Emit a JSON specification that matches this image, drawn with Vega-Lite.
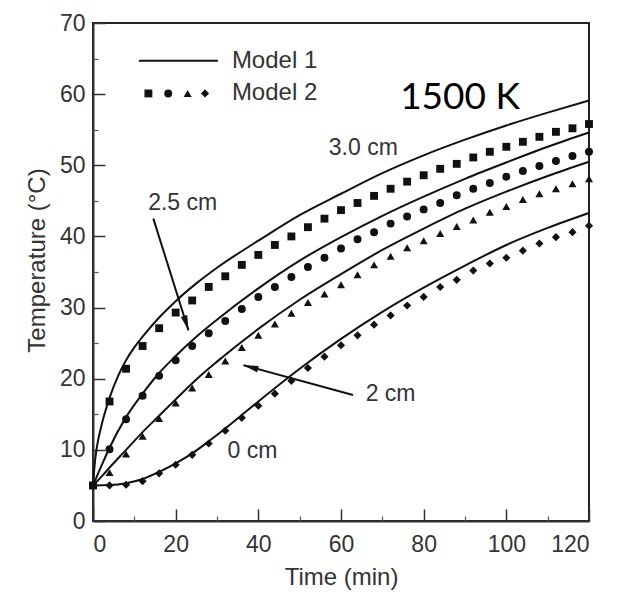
{
  "$schema": "https://vega.github.io/schema/vega-lite/v6.json",
  "width": 496,
  "height": 498,
  "autosize": {"type": "none"},
  "padding": {"left": 93, "top": 23, "right": 31, "bottom": 73},
  "config": {
    "view": {"stroke": "#222", "strokeWidth": 2},
    "font": "Liberation Sans"
  },
  "datasets": {
    "model1": [
      {"depth": "3.0 cm", "t": 0, "T": 5}, {"depth": "3.0 cm", "t": 0.5, "T": 8.5}, {"depth": "3.0 cm", "t": 1, "T": 10.6}, {"depth": "3.0 cm", "t": 2, "T": 13.3}, {"depth": "3.0 cm", "t": 4, "T": 17.3}, {"depth": "3.0 cm", "t": 6, "T": 20.3}, {"depth": "3.0 cm", "t": 8, "T": 22.6}, {"depth": "3.0 cm", "t": 10, "T": 24.4}, {"depth": "3.0 cm", "t": 12, "T": 25.9}, {"depth": "3.0 cm", "t": 16, "T": 28.6}, {"depth": "3.0 cm", "t": 20, "T": 30.9}, {"depth": "3.0 cm", "t": 25, "T": 33.4}, {"depth": "3.0 cm", "t": 30, "T": 35.6}, {"depth": "3.0 cm", "t": 40, "T": 39.4}, {"depth": "3.0 cm", "t": 50, "T": 43.0}, {"depth": "3.0 cm", "t": 60, "T": 46.0}, {"depth": "3.0 cm", "t": 70, "T": 48.9}, {"depth": "3.0 cm", "t": 80, "T": 51.4}, {"depth": "3.0 cm", "t": 90, "T": 53.6}, {"depth": "3.0 cm", "t": 100, "T": 55.6}, {"depth": "3.0 cm", "t": 110, "T": 57.4}, {"depth": "3.0 cm", "t": 120, "T": 59.1},
      {"depth": "2.5 cm", "t": 0, "T": 5}, {"depth": "2.5 cm", "t": 2, "T": 7.7}, {"depth": "2.5 cm", "t": 4, "T": 10.3}, {"depth": "2.5 cm", "t": 8, "T": 14.6}, {"depth": "2.5 cm", "t": 12, "T": 17.9}, {"depth": "2.5 cm", "t": 16, "T": 20.8}, {"depth": "2.5 cm", "t": 20, "T": 23.2}, {"depth": "2.5 cm", "t": 25, "T": 25.9}, {"depth": "2.5 cm", "t": 30, "T": 28.3}, {"depth": "2.5 cm", "t": 40, "T": 32.7}, {"depth": "2.5 cm", "t": 50, "T": 36.6}, {"depth": "2.5 cm", "t": 60, "T": 39.9}, {"depth": "2.5 cm", "t": 70, "T": 42.9}, {"depth": "2.5 cm", "t": 80, "T": 45.6}, {"depth": "2.5 cm", "t": 90, "T": 48.1}, {"depth": "2.5 cm", "t": 100, "T": 50.4}, {"depth": "2.5 cm", "t": 110, "T": 52.6}, {"depth": "2.5 cm", "t": 120, "T": 54.6},
      {"depth": "2 cm", "t": 0, "T": 5}, {"depth": "2 cm", "t": 2, "T": 6.2}, {"depth": "2 cm", "t": 4, "T": 7.5}, {"depth": "2 cm", "t": 8, "T": 10.0}, {"depth": "2 cm", "t": 12, "T": 12.5}, {"depth": "2 cm", "t": 16, "T": 14.8}, {"depth": "2 cm", "t": 20, "T": 17.1}, {"depth": "2 cm", "t": 25, "T": 19.9}, {"depth": "2 cm", "t": 30, "T": 22.4}, {"depth": "2 cm", "t": 40, "T": 27.0}, {"depth": "2 cm", "t": 50, "T": 31.1}, {"depth": "2 cm", "t": 60, "T": 34.7}, {"depth": "2 cm", "t": 70, "T": 38.1}, {"depth": "2 cm", "t": 80, "T": 41.1}, {"depth": "2 cm", "t": 90, "T": 43.9}, {"depth": "2 cm", "t": 100, "T": 46.3}, {"depth": "2 cm", "t": 110, "T": 48.5}, {"depth": "2 cm", "t": 120, "T": 50.5},
      {"depth": "0 cm", "t": 0, "T": 5}, {"depth": "0 cm", "t": 4, "T": 5.05}, {"depth": "0 cm", "t": 8, "T": 5.3}, {"depth": "0 cm", "t": 12, "T": 5.9}, {"depth": "0 cm", "t": 16, "T": 6.9}, {"depth": "0 cm", "t": 20, "T": 8.1}, {"depth": "0 cm", "t": 24, "T": 9.5}, {"depth": "0 cm", "t": 28, "T": 11.2}, {"depth": "0 cm", "t": 32, "T": 13.0}, {"depth": "0 cm", "t": 36, "T": 14.9}, {"depth": "0 cm", "t": 40, "T": 16.8}, {"depth": "0 cm", "t": 50, "T": 21.4}, {"depth": "0 cm", "t": 60, "T": 25.6}, {"depth": "0 cm", "t": 70, "T": 29.4}, {"depth": "0 cm", "t": 80, "T": 32.8}, {"depth": "0 cm", "t": 90, "T": 35.9}, {"depth": "0 cm", "t": 100, "T": 38.8}, {"depth": "0 cm", "t": 110, "T": 41.2}, {"depth": "0 cm", "t": 120, "T": 43.3}
    ],
    "model2": [
      {"depth": "3.0 cm", "t": 0, "T": 5}, {"depth": "3.0 cm", "t": 4, "T": 16.8}, {"depth": "3.0 cm", "t": 8, "T": 21.4}, {"depth": "3.0 cm", "t": 12, "T": 24.6}, {"depth": "3.0 cm", "t": 16, "T": 27.1}, {"depth": "3.0 cm", "t": 20, "T": 29.3}, {"depth": "3.0 cm", "t": 24, "T": 31.0}, {"depth": "3.0 cm", "t": 28, "T": 32.9}, {"depth": "3.0 cm", "t": 32, "T": 34.4}, {"depth": "3.0 cm", "t": 36, "T": 36.0}, {"depth": "3.0 cm", "t": 40, "T": 37.4}, {"depth": "3.0 cm", "t": 44, "T": 38.8}, {"depth": "3.0 cm", "t": 48, "T": 40.0}, {"depth": "3.0 cm", "t": 52, "T": 41.3}, {"depth": "3.0 cm", "t": 56, "T": 42.5}, {"depth": "3.0 cm", "t": 60, "T": 43.7}, {"depth": "3.0 cm", "t": 64, "T": 44.7}, {"depth": "3.0 cm", "t": 68, "T": 45.7}, {"depth": "3.0 cm", "t": 72, "T": 46.7}, {"depth": "3.0 cm", "t": 76, "T": 47.7}, {"depth": "3.0 cm", "t": 80, "T": 48.6}, {"depth": "3.0 cm", "t": 84, "T": 49.5}, {"depth": "3.0 cm", "t": 88, "T": 50.2}, {"depth": "3.0 cm", "t": 92, "T": 51.1}, {"depth": "3.0 cm", "t": 96, "T": 51.9}, {"depth": "3.0 cm", "t": 100, "T": 52.6}, {"depth": "3.0 cm", "t": 104, "T": 53.3}, {"depth": "3.0 cm", "t": 108, "T": 54.0}, {"depth": "3.0 cm", "t": 112, "T": 54.7}, {"depth": "3.0 cm", "t": 116, "T": 55.2}, {"depth": "3.0 cm", "t": 120, "T": 55.8},
      {"depth": "2.5 cm", "t": 0, "T": 5}, {"depth": "2.5 cm", "t": 4, "T": 10.1}, {"depth": "2.5 cm", "t": 8, "T": 14.3}, {"depth": "2.5 cm", "t": 12, "T": 17.6}, {"depth": "2.5 cm", "t": 16, "T": 20.4}, {"depth": "2.5 cm", "t": 20, "T": 22.6}, {"depth": "2.5 cm", "t": 24, "T": 24.6}, {"depth": "2.5 cm", "t": 28, "T": 26.4}, {"depth": "2.5 cm", "t": 32, "T": 28.1}, {"depth": "2.5 cm", "t": 36, "T": 29.8}, {"depth": "2.5 cm", "t": 40, "T": 31.5}, {"depth": "2.5 cm", "t": 44, "T": 32.9}, {"depth": "2.5 cm", "t": 48, "T": 34.3}, {"depth": "2.5 cm", "t": 52, "T": 35.7}, {"depth": "2.5 cm", "t": 56, "T": 37.0}, {"depth": "2.5 cm", "t": 60, "T": 38.3}, {"depth": "2.5 cm", "t": 64, "T": 39.6}, {"depth": "2.5 cm", "t": 68, "T": 40.6}, {"depth": "2.5 cm", "t": 72, "T": 41.8}, {"depth": "2.5 cm", "t": 76, "T": 42.8}, {"depth": "2.5 cm", "t": 80, "T": 43.8}, {"depth": "2.5 cm", "t": 84, "T": 44.7}, {"depth": "2.5 cm", "t": 88, "T": 45.8}, {"depth": "2.5 cm", "t": 92, "T": 46.7}, {"depth": "2.5 cm", "t": 96, "T": 47.5}, {"depth": "2.5 cm", "t": 100, "T": 48.4}, {"depth": "2.5 cm", "t": 104, "T": 49.2}, {"depth": "2.5 cm", "t": 108, "T": 49.9}, {"depth": "2.5 cm", "t": 112, "T": 50.6}, {"depth": "2.5 cm", "t": 116, "T": 51.3}, {"depth": "2.5 cm", "t": 120, "T": 51.9},
      {"depth": "2 cm", "t": 0, "T": 5}, {"depth": "2 cm", "t": 4, "T": 6.8}, {"depth": "2 cm", "t": 8, "T": 9.4}, {"depth": "2 cm", "t": 12, "T": 11.9}, {"depth": "2 cm", "t": 16, "T": 14.4}, {"depth": "2 cm", "t": 20, "T": 16.6}, {"depth": "2 cm", "t": 24, "T": 18.7}, {"depth": "2 cm", "t": 28, "T": 20.6}, {"depth": "2 cm", "t": 32, "T": 22.5}, {"depth": "2 cm", "t": 36, "T": 24.4}, {"depth": "2 cm", "t": 40, "T": 26.1}, {"depth": "2 cm", "t": 44, "T": 27.7}, {"depth": "2 cm", "t": 48, "T": 29.2}, {"depth": "2 cm", "t": 52, "T": 30.7}, {"depth": "2 cm", "t": 56, "T": 31.9}, {"depth": "2 cm", "t": 60, "T": 33.2}, {"depth": "2 cm", "t": 64, "T": 34.6}, {"depth": "2 cm", "t": 68, "T": 36.0}, {"depth": "2 cm", "t": 72, "T": 37.2}, {"depth": "2 cm", "t": 76, "T": 38.4}, {"depth": "2 cm", "t": 80, "T": 39.4}, {"depth": "2 cm", "t": 84, "T": 40.4}, {"depth": "2 cm", "t": 88, "T": 41.4}, {"depth": "2 cm", "t": 92, "T": 42.3}, {"depth": "2 cm", "t": 96, "T": 43.4}, {"depth": "2 cm", "t": 100, "T": 44.2}, {"depth": "2 cm", "t": 104, "T": 45.2}, {"depth": "2 cm", "t": 108, "T": 46.0}, {"depth": "2 cm", "t": 112, "T": 46.7}, {"depth": "2 cm", "t": 116, "T": 47.4}, {"depth": "2 cm", "t": 120, "T": 48.1},
      {"depth": "0 cm", "t": 0, "T": 5}, {"depth": "0 cm", "t": 4, "T": 5.0}, {"depth": "0 cm", "t": 8, "T": 5.1}, {"depth": "0 cm", "t": 12, "T": 5.6}, {"depth": "0 cm", "t": 16, "T": 6.7}, {"depth": "0 cm", "t": 20, "T": 7.9}, {"depth": "0 cm", "t": 24, "T": 9.3}, {"depth": "0 cm", "t": 28, "T": 10.9}, {"depth": "0 cm", "t": 32, "T": 12.7}, {"depth": "0 cm", "t": 36, "T": 14.5}, {"depth": "0 cm", "t": 40, "T": 16.2}, {"depth": "0 cm", "t": 44, "T": 17.9}, {"depth": "0 cm", "t": 48, "T": 19.7}, {"depth": "0 cm", "t": 52, "T": 21.5}, {"depth": "0 cm", "t": 56, "T": 23.1}, {"depth": "0 cm", "t": 60, "T": 24.7}, {"depth": "0 cm", "t": 64, "T": 26.1}, {"depth": "0 cm", "t": 68, "T": 27.6}, {"depth": "0 cm", "t": 72, "T": 28.9}, {"depth": "0 cm", "t": 76, "T": 30.3}, {"depth": "0 cm", "t": 80, "T": 31.5}, {"depth": "0 cm", "t": 84, "T": 32.9}, {"depth": "0 cm", "t": 88, "T": 33.9}, {"depth": "0 cm", "t": 92, "T": 35.2}, {"depth": "0 cm", "t": 96, "T": 36.2}, {"depth": "0 cm", "t": 100, "T": 37.0}, {"depth": "0 cm", "t": 104, "T": 38.0}, {"depth": "0 cm", "t": 108, "T": 39.0}, {"depth": "0 cm", "t": 112, "T": 39.9}, {"depth": "0 cm", "t": 116, "T": 40.6}, {"depth": "0 cm", "t": 120, "T": 41.5}
    ],
    "legendLine": [{"t": 11.1, "t2": 30.2, "T": 64.7}],
    "legendMarks": [
      {"depth": "3.0 cm", "t": 13.4, "T": 60.1}, {"depth": "2.5 cm", "t": 18.2, "T": 60.1}, {"depth": "2 cm", "t": 22.9, "T": 60.1}, {"depth": "0 cm", "t": 27.1, "T": 60.1}
    ],
    "legendText": [{"label": "Model 1", "t": 33.6, "T": 64.7}, {"label": "Model 2", "t": 33.6, "T": 60.1}],
    "labels": [
      {"label": "3.0 cm", "t": 65.4, "T": 52.5},
      {"label": "2.5 cm", "t": 21.7, "T": 44.7},
      {"label": "2 cm", "t": 72.0, "T": 17.8},
      {"label": "0 cm", "t": 38.6, "T": 9.8}
    ],
    "arrows": [
      {"name": "2.5 cm", "t": 14.6, "T": 42.5, "t2": 23.1, "T2": 26.8},
      {"name": "2 cm", "t": 62.9, "T": 17.7, "t2": 36.4, "T2": 21.9}
    ],
    "heads25": [{"t": 23.1, "T": 26.8}],
    "heads2": [{"t": 36.4, "T": 21.9}],
    "title": [{"label": "1500 K", "t": 88.8, "T": 59.4}]
  },
  "resolve": {"axis": {"x": "independent", "y": "independent"}},
  "layer": [
    {
      "data": {"name": "model1"},
      "mark": {"type": "line", "color": "#111", "strokeWidth": 2, "interpolate": "monotone"},
      "encoding": {
        "x": {"field": "t", "type": "quantitative",
          "scale": {"domain": [0, 120], "nice": false},
          "axis": {"orient": "bottom", "values": [0, 20, 40, 60, 80, 100, 120], "tickSize": -12, "tickWidth": 1.5, "tickColor": "#333",
            "domainColor": "#333", "domainWidth": 2, "labelFontSize": 23, "labelColor": "#333", "labelPadding": 24, "labelFont": "Liberation Sans",
            "title": "Time (min)", "titleFontSize": 24, "titleFontWeight": "normal", "titleColor": "#333", "titlePadding": 9, "titleFont": "Liberation Sans", "grid": false}},
        "y": {"field": "T", "type": "quantitative",
          "scale": {"domain": [0, 70], "nice": false},
          "axis": {"orient": "left", "values": [0, 10, 20, 30, 40, 50, 60, 70], "tickSize": -12, "tickWidth": 1.5, "tickColor": "#333",
            "domainColor": "#333", "domainWidth": 2, "labelFontSize": 23, "labelColor": "#333", "labelPadding": 20, "labelFont": "Liberation Sans",
            "title": "Temperature (°C)", "titleFontSize": 24, "titleFontWeight": "normal", "titleColor": "#333", "titlePadding": 10, "titleFont": "Liberation Sans", "titleY": 237, "grid": false}},
        "detail": {"field": "depth"}
      }
    },
    {
      "data": {"name": "model2"},
      "mark": {"type": "point", "filled": true, "color": "#111", "opacity": 1},
      "encoding": {
        "x": {"field": "t", "type": "quantitative", "scale": {"domain": [0, 120], "nice": false},
          "axis": {"orient": "bottom", "values": [10, 30, 50, 70, 90, 110], "tickSize": -5, "tickWidth": 1.2, "tickColor": "#555", "labels": false, "domain": false, "title": null, "grid": false}},
        "y": {"field": "T", "type": "quantitative", "scale": {"domain": [0, 70], "nice": false},
          "axis": {"orient": "left", "values": [5, 15, 25, 35, 45, 55, 65], "tickSize": -5, "tickWidth": 1.2, "tickColor": "#555", "labels": false, "domain": false, "title": null, "grid": false}},
        "shape": {"field": "depth", "type": "nominal", "legend": null,
          "scale": {"domain": ["3.0 cm", "2.5 cm", "2 cm", "0 cm"], "range": ["square", "circle", "triangle-up", "diamond"]}},
        "size": {"field": "depth", "type": "nominal", "legend": null,
          "scale": {"domain": ["3.0 cm", "2.5 cm", "2 cm", "0 cm"], "range": [62, 66, 48, 46]}}
      }
    },
    {
      "data": {"name": "legendLine"},
      "mark": {"type": "rule", "color": "#111", "strokeWidth": 2},
      "encoding": {
        "x": {"field": "t", "type": "quantitative", "axis": null},
        "x2": {"field": "t2"},
        "y": {"field": "T", "type": "quantitative", "axis": null}
      }
    },
    {
      "data": {"name": "legendMarks"},
      "mark": {"type": "point", "filled": true, "color": "#111", "opacity": 1},
      "encoding": {
        "x": {"field": "t", "type": "quantitative", "axis": null},
        "y": {"field": "T", "type": "quantitative", "axis": null},
        "shape": {"field": "depth", "type": "nominal", "legend": null},
        "size": {"field": "depth", "type": "nominal", "legend": null}
      }
    },
    {
      "data": {"name": "legendText"},
      "mark": {"type": "text", "align": "left", "baseline": "middle", "fontSize": 24, "color": "#333", "font": "Liberation Sans"},
      "encoding": {
        "x": {"field": "t", "type": "quantitative", "axis": null},
        "y": {"field": "T", "type": "quantitative", "axis": null},
        "text": {"field": "label"}
      }
    },
    {
      "data": {"name": "labels"},
      "mark": {"type": "text", "align": "center", "baseline": "middle", "fontSize": 23, "color": "#333", "font": "Liberation Sans"},
      "encoding": {
        "x": {"field": "t", "type": "quantitative", "axis": null},
        "y": {"field": "T", "type": "quantitative", "axis": null},
        "text": {"field": "label"}
      }
    },
    {
      "data": {"name": "arrows"},
      "mark": {"type": "rule", "color": "#111", "strokeWidth": 2},
      "encoding": {
        "x": {"field": "t", "type": "quantitative", "axis": null},
        "y": {"field": "T", "type": "quantitative", "axis": null},
        "x2": {"field": "t2"},
        "y2": {"field": "T2"}
      }
    },
    {
      "data": {"name": "heads25"},
      "mark": {"type": "point", "filled": true, "color": "#111", "opacity": 1, "shape": "M0,0L0.36,1.6L-0.36,1.6Z", "size": 350, "angle": 162.6},
      "encoding": {
        "x": {"field": "t", "type": "quantitative", "axis": null},
        "y": {"field": "T", "type": "quantitative", "axis": null}
      }
    },
    {
      "data": {"name": "heads2"},
      "mark": {"type": "point", "filled": true, "color": "#111", "opacity": 1, "shape": "M0,0L0.36,1.6L-0.36,1.6Z", "size": 350, "angle": 285.3},
      "encoding": {
        "x": {"field": "t", "type": "quantitative", "axis": null},
        "y": {"field": "T", "type": "quantitative", "axis": null}
      }
    },
    {
      "data": {"name": "title"},
      "mark": {"type": "text", "align": "center", "baseline": "middle", "fontSize": 37, "color": "#000", "font": "Lato"},
      "encoding": {
        "x": {"field": "t", "type": "quantitative", "axis": null},
        "y": {"field": "T", "type": "quantitative", "axis": null},
        "text": {"field": "label"}
      }
    }
  ]
}
